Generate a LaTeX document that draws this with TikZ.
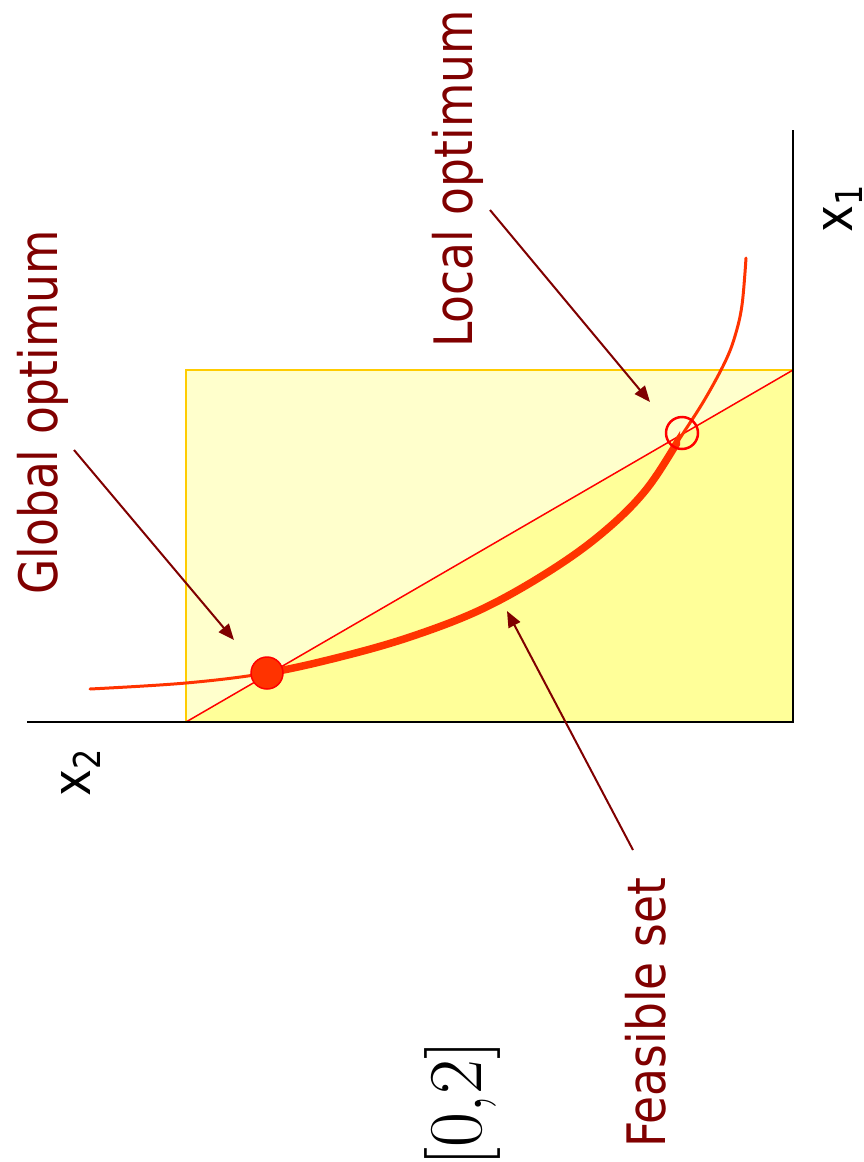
\documentclass[tikz,border=0pt]{standalone}
\usepackage{fontspec}
\setmainfont{Latin Modern Roman}
\newfontfamily\labelfont{DejaVu Sans}
\usetikzlibrary{arrows.meta}
\definecolor{lightyel}{HTML}{FFFFCC}
\definecolor{darkyel}{HTML}{FFFF99}
\definecolor{rimgold}{HTML}{FFCC00}
\definecolor{curvecol}{HTML}{FF3300}
\definecolor{labred}{HTML}{800000}
\tikzset{
  lbl/.style={rotate=90, anchor=base west, inner sep=0pt, text=labred,
    font=\labelfont\fontsize{53}{53}\selectfont},
  axlbl/.style={rotate=90, anchor=base west, inner sep=0pt, text=black,
    font=\labelfont\fontsize{53}{53}\selectfont},
  pointer/.style={draw=labred, line width=2pt, -{Triangle[length=16pt,width=13pt]}},
  curve/.style={draw=curvecol, line width=3pt, line cap=round},
  thickcurve/.style={draw=curvecol, line width=7.5pt},
}
\newcommand{\sq}[1]{\scalebox{0.86}[1]{#1}}
\newcommand{\feascurve}{plot[smooth, tension=0.6] coordinates {(90,689) (186,683) (267,673) (340,657) (410,637) (480,610) (545,574) (600,535) (645,491) (682,435) (705,399) (725,362) (735,336) (742,305) (746,258)}}
\begin{document}
\begin{tikzpicture}[x=1pt, y=-1pt]
\useasboundingbox (0,0) rectangle (864,1162);
% feasible box
\fill[lightyel] (186,370) rectangle (793,722);
\fill[darkyel] (186,722) -- (793,370) -- (793,722) -- cycle;
\draw[rimgold, line width=2pt] (186,722) -- (186,370) -- (793,370);
% diagonal
\coordinate (d0) at (186,722);
\coordinate (d1) at (793,370);
\draw[red, line width=1.5pt] (d0) -- (d1);
% axes
\coordinate (o) at (793,722);
\coordinate (ax1) at (793,130);
\coordinate (ax2) at (27,722);
\draw[black, line width=2.5pt] (ax2) -- (o) -- (ax1);
% curve
\draw[curve] \feascurve;
\begin{scope}
  \clip (267,300) rectangle (680,720);
  \draw[thickcurve] \feascurve;
\end{scope}
% optima
\node[circle, fill=curvecol, draw=red, line width=1.5pt, minimum size=32pt, inner sep=0pt] (gopt) at (267,673) {};
\node[circle, draw=red, line width=2.5pt, minimum size=32pt, inner sep=0pt] (lopt) at (682,433) {};
% labels
\node[lbl] (lloc) at (472,348) {\sq{Local optimum}};
\node[lbl] (lglob) at (57,595) {\sq{Global optimum}};
\node[lbl] (lfeas) at (665,1148) {\sq{Feasible set}};
\node[axlbl] (lx1) at (852,233) {\sq{x\raisebox{-10pt}{\fontsize{37}{37}\selectfont 1}}};
\node[axlbl] (lx2) at (90,797) {\sq{x\raisebox{-10pt}{\fontsize{37}{37}\selectfont 2}}};
\node[rotate=90, anchor=base east, inner sep=0pt, font=\fontsize{76}{76}\selectfont] (lint) at (481,1040) {[0,2]};
% pointers
\coordinate (ts1) at (490,210);
\coordinate (th1) at (650,402);
\coordinate (ts2) at (74,450);
\coordinate (th2) at (234,640);
\coordinate (ts3) at (633,850);
\coordinate (th3) at (507,611);
\draw[pointer] (ts1) -- (th1);
\draw[pointer] (ts2) -- (th2);
\draw[pointer] (ts3) -- (th3);
\end{tikzpicture}
\end{document}
